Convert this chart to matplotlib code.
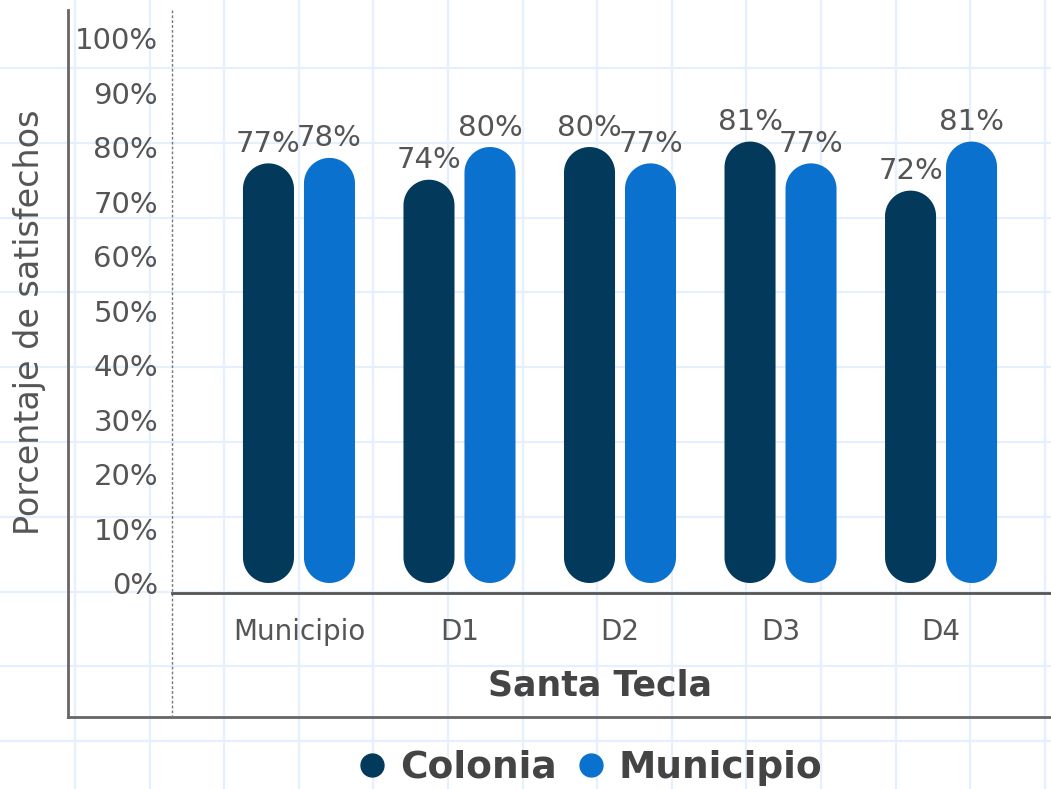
import matplotlib
matplotlib.use("Agg")
import matplotlib.pyplot as plt
from matplotlib.patches import Polygon
from matplotlib.lines import Line2D
import numpy as np

# data
groups = ["Municipio", "D1", "D2", "D3", "D4"]
colonia = [77, 74, 80, 81, 72]
municipio = [78, 80, 77, 77, 81]
series_names = ["Colonia", "Municipio"]
y_ticks = [0, 10, 20, 30, 40, 50, 60, 70, 80, 90, 100]

dark_blue = "#033a5c"
light_blue = "#0b71cf"
text_gray = "#555555"

W, H = 1051, 789
fig = plt.figure(figsize=(W / 100, H / 100), dpi=100)

# graph-paper background and outer frame (pixel coords)
bg = fig.add_axes([0, 0, 1, 1], zorder=-1)
bg.set_xlim(0, W)
bg.set_ylim(H, 0)
bg.set_xticks(np.arange(75, W, 74.6))
bg.set_yticks(np.arange(68, H, 74.8))
bg.grid(True, color="#e6f0fc", lw=1.6)
bg.tick_params(length=0, labelbottom=False, labelleft=False)
for s in bg.spines.values():
    s.set_visible(False)
bg.plot([68, 68], [10, 717], color="#666666", lw=2)
bg.plot([68, W], [717, 717], color="#666666", lw=2)
bg.plot([172, 172], [10, 717], color="#777777", lw=1, ls=(0, (2, 1.5)))

# main plot area
left, right = 172 / W, 1.0
bottom, top = 1 - 593 / H, 1 - 10 / H
ax = fig.add_axes([left, bottom, right - left, top - bottom])
ax.patch.set_alpha(0)

x = np.arange(len(groups))
x_lo, x_hi = -0.791, 4.685
y_lo, y_hi = -1.835, 105.14
ax.set_xlim(x_lo, x_hi)
ax.set_ylim(y_lo, y_hi)

# pill-shaped bars, caps scaled so they look round on screen
px_per_x = (right - left) * W / (x_hi - x_lo)
px_per_y = (top - bottom) * H / (y_hi - y_lo)
aspect = px_per_x / px_per_y

bar_w = 0.318
offset = 0.19
rx = bar_w / 2
ry = rx * aspect
t_bot = np.linspace(np.pi, 2 * np.pi, 40)
t_top = np.linspace(0, np.pi, 40)


def pill(xc, v):
    xs = np.concatenate([xc + rx * np.cos(t_bot), xc + rx * np.cos(t_top)])
    ys = np.concatenate([ry + ry * np.sin(t_bot), v - ry + ry * np.sin(t_top)])
    return np.column_stack([xs, ys])


for vals, sign, col in [(colonia, -1, dark_blue), (municipio, 1, light_blue)]:
    for xi, v in zip(x, vals):
        xc = xi + sign * offset
        ax.add_patch(Polygon(pill(xc, v), closed=True, fc=col, ec="none"))
        ax.text(xc, v + 1.0, f"{v}%", ha="center", va="bottom",
                fontsize=21, color=text_gray)

ax.set_yticks(y_ticks)
ax.set_yticklabels([f"{t}%" for t in y_ticks])
ax.set_xticks(x)
ax.set_xticklabels(groups)
ax.tick_params(axis="y", length=0, pad=10, labelsize=21, labelcolor=text_gray)
ax.tick_params(axis="x", length=0, pad=18, labelsize=20, labelcolor=text_gray)
for s in ["top", "right", "left"]:
    ax.spines[s].set_visible(False)
ax.spines["bottom"].set_color("#555555")
ax.spines["bottom"].set_linewidth(2)

fig.text(30 / W, 1 - 322 / H, "Porcentaje de satisfechos", rotation=90,
         ha="center", va="center", fontsize=24, color=text_gray)
fig.text(600 / W, 1 - 686 / H, "Santa Tecla", ha="center", va="center",
         fontsize=25, fontweight="bold", color="#444444")

handles = [Line2D([], [], ls="none", marker="o", ms=16.5, color=c)
           for c in (dark_blue, light_blue)]
leg = fig.legend(handles, series_names, loc="center",
                 bbox_to_anchor=(588 / W, 1 - 768 / H), ncol=2, frameon=False,
                 handletextpad=0.25, columnspacing=0.4, handlelength=1.0,
                 prop={"size": 27, "weight": "bold"})
for t in leg.get_texts():
    t.set_color("#444444")

fig.savefig("out.png", dpi=100)
